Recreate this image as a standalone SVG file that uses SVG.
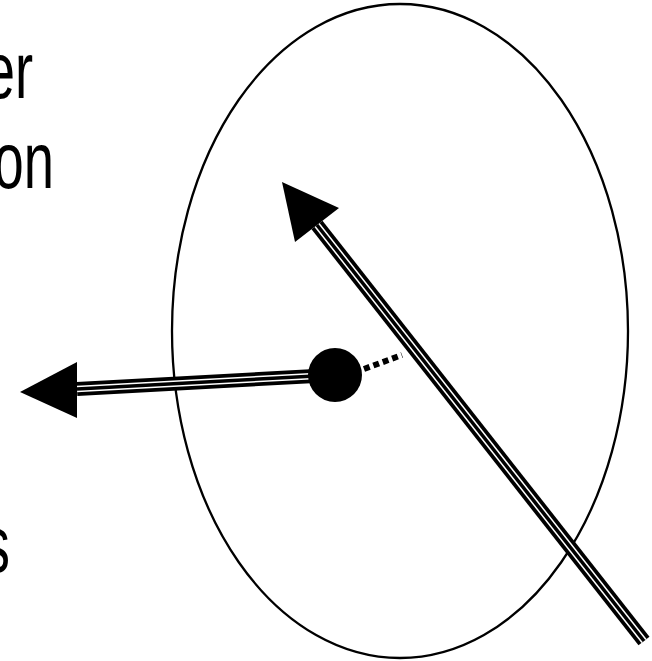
<svg xmlns="http://www.w3.org/2000/svg" width="652" height="661" viewBox="0 0 652 661">
<style>
.lbl{font-family:"Liberation Sans",Arial,sans-serif;font-size:80px;fill:#000;text-anchor:end}
.o{stroke:#000;stroke-width:14;fill:none}
.g{stroke:#fff;stroke-width:6.5;fill:none}
.m{stroke:#000;stroke-width:3.5;fill:none}
.head{fill:#000}
</style>
<rect width="652" height="661" fill="#fff"/>
<g id="labels">
<text class="lbl" transform="scale(0.68,1)" x="48.5" y="98">er</text>
<text class="lbl" transform="scale(0.68,1)" x="79.4" y="188">on</text>
<text class="lbl" transform="scale(0.68,1)" x="14.7" y="572">s</text>
</g>
<g id="ellipse">
<ellipse cx="400" cy="331" rx="228" ry="327" fill="none" stroke="#000" stroke-width="2.3"/>
</g>
<g id="connectors">
<g id="diag-arrow">
<path class="o" d="M317,225 L644,641"/>
<path class="g" d="M317,225 L644,641"/>
<path class="m" d="M317,225 L644,641"/>
<polygon class="head" points="282,182 339,208 295,242"/>
</g>
<g id="left-arrow">
<path class="o" d="M77,389 L315,376"/>
<path class="g" d="M77,389 L315,376"/>
<path class="m" d="M77,389 L315,376"/>
<polygon class="head" points="20,392 77,362 77,418"/>
</g>
<path id="dots" d="M364,369 L402,355" stroke="#000" stroke-width="6" stroke-dasharray="6 4" fill="none"/>
</g>
<g id="particle">
<circle cx="335" cy="375" r="27" fill="#000"/>
</g>
</svg>
